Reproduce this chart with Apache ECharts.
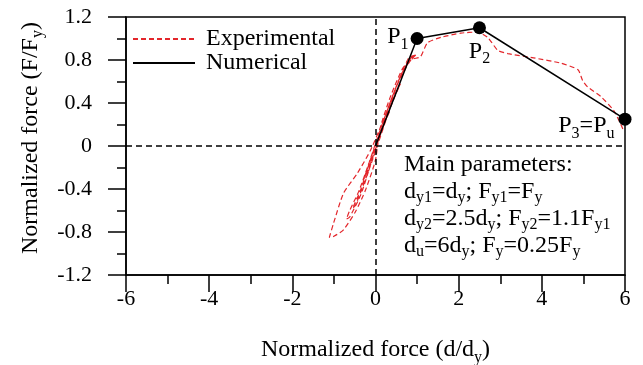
<!DOCTYPE html>
<html><head><meta charset="utf-8">
<script src="https://cdn.jsdelivr.net/npm/echarts@6/dist/echarts.min.js"></script>
<style>html,body{margin:0;padding:0;background:#fff}#c{width:643px;height:365px}</style>
</head><body><div id="c"></div>
<script>
// ---- data ----
const xTicks = [-6, -4, -2, 0, 2, 4, 6];
const yTicks = [-1.2, -0.8, -0.4, 0, 0.4, 0.8, 1.2];
const numX = [0, 1, 2.5, 6];
const numY = [0, 1.0, 1.1, 0.25];
const keyX = [1, 2.5, 6];
const keyY = [1.0, 1.1, 0.25];
const keyLabels = ['P{s|1}', 'P{s|2}', 'P{s|3}=P{s|u}'];
const expX = [0, 0.2, 0.35, 0.25, 0.05, -0.15, -0.3, -0.22, -0.05,
  0.15, 0.4, 0.6, 0.5, 0.2, -0.1, -0.35, -0.55, -0.48, -0.25, 0,
  0.3, 0.55, 0.75, 0.95, 0.85, 0.6, 0.3, 0.05,
  -0.15, -0.4, -0.62, -0.7, -0.62, -0.35, -0.1,
  0.2, 0.5, 0.8, 1.0, 0.9, 0.65, 0.35, 0.1,
  0, -0.24, -0.48, -0.77, -1.0, -1.11, -1.01, -0.77, -0.43, -0.12,
  0.2, 0.5, 0.85, 1.08, 1.25, 1.57, 2.05, 2.45, 2.7, 2.94, 3.18, 3.8, 4.46, 4.87, 4.98, 5.1, 5.42, 5.73, 5.9, 5.97];
const expY = [0, 0.2, 0.33, 0.25, 0.05, -0.17, -0.32, -0.26, -0.08,
  0.14, 0.4, 0.58, 0.5, 0.22, -0.1, -0.4, -0.58, -0.55, -0.32, -0.05,
  0.3, 0.6, 0.75, 0.84, 0.82, 0.65, 0.35, 0.08,
  -0.15, -0.42, -0.6, -0.68, -0.66, -0.45, -0.15,
  0.22, 0.55, 0.82, 0.85, 0.83, 0.72, 0.45, 0.15,
  -0.13, -0.41, -0.61, -0.78, -0.84, -0.85, -0.72, -0.44, -0.25, -0.04,
  0.25, 0.55, 0.8, 0.83, 0.96, 1.01, 1.05, 1.06, 1.01, 0.89, 0.86, 0.82, 0.77, 0.71, 0.61, 0.55, 0.46, 0.33, 0.2, 0.14];
const paramLines = [
  'Main parameters:',
  'd{s|y1}=d{s|y}; F{s|y1}=F{s|y}',
  'd{s|y2}=2.5d{s|y}; F{s|y2}=1.1F{s|y1}',
  'd{s|u}=6d{s|y}; F{s|y}=0.25F{s|y}'
];

// ---- chart ----
const FONT = 'Liberation Serif';
const FS = 24;
const TFS = 22;
const subStyle = { fontFamily: FONT, fontSize: 16, color: '#000', lineHeight: 14, padding: [16, 0, 0, 0] };
const chart = echarts.init(document.getElementById('c'), null, { renderer: 'canvas' });
const zip = (a, b) => a.map((v, i) => [v, b[i]]);
const labelPos = [
  { position: 'left', distance: 2, offset: [0, -2] },
  { position: 'bottom', distance: 2, offset: [0, 0] },
  { position: 'left', distance: 4, offset: [0, 7] }
];

chart.setOption({
  animation: false,
  backgroundColor: '#fff',
  grid: { left: 126, right: 18, top: 17, bottom: 90, show: true, borderColor: '#000', borderWidth: 1.5,
    outerBoundsMode: 'none', containLabel: false },
  legend: {
    orient: 'vertical', left: 132, top: 27, padding: 0, itemWidth: 62, itemHeight: 14, itemGap: 0,
    data: ['Experimental', 'Numerical'],
    itemStyle: { opacity: 0 },
    textStyle: { fontFamily: FONT, fontSize: FS, color: '#000', padding: [0, 0, 0, 6] }
  },
  xAxis: {
    type: 'value', min: xTicks[0], max: xTicks[xTicks.length - 1], interval: xTicks[1] - xTicks[0],
    name: 'Normalized force (d/d{s|y})', nameLocation: 'middle', nameGap: 63,
    nameTextStyle: { fontFamily: FONT, fontSize: FS, color: '#000', rich: { s: subStyle } },
    axisLine: { onZero: false, lineStyle: { color: '#000', width: 1.5 } },
    axisTick: { show: true, inside: false, length: 17, lineStyle: { color: '#000', width: 1.5 } },
    minorTick: { show: true, splitNumber: 2, length: 9, lineStyle: { color: '#000', width: 1.5 } },
    axisLabel: { fontFamily: FONT, fontSize: TFS, color: '#000', margin: 13 },
    splitLine: { show: false }
  },
  yAxis: {
    type: 'value', min: yTicks[0], max: yTicks[yTicks.length - 1], interval: 0.4,
    name: 'Normalized force (F/F{s|y})', nameLocation: 'middle', nameGap: 76, nameRotate: 90,
    nameTextStyle: { fontFamily: FONT, fontSize: FS, color: '#000', rich: { s: subStyle }, padding: [0, 0, 0, 16] },
    axisLine: { onZero: false, lineStyle: { color: '#000', width: 1.5 } },
    axisTick: { show: true, inside: false, length: 18, lineStyle: { color: '#000', width: 1.5 } },
    minorTick: { show: true, splitNumber: 2, length: 9, lineStyle: { color: '#000', width: 1.5 } },
    axisLabel: { fontFamily: FONT, fontSize: TFS, color: '#000', margin: 34,
      formatter: v => String(Math.round(v * 10) / 10) },
    splitLine: { show: false }
  },
  series: [
    {
      name: 'Experimental', type: 'line', data: zip(expX, expY), symbol: 'none', smooth: 0.2,
      lineStyle: { color: '#e3262b', width: 1.2, type: [5, 3] }, itemStyle: { color: '#e3262b' }, z: 2
    },
    {
      name: 'Numerical', type: 'line', data: zip(numX, numY), symbol: 'none',
      lineStyle: { color: '#000', width: 1.5 }, itemStyle: { color: '#000' }, z: 3,
      markLine: {
        silent: true, symbol: 'none', label: { show: false },
        lineStyle: { color: '#000', width: 1.5, type: [6, 4] },
        data: [{ xAxis: 0 }, { yAxis: 0 }]
      }
    },
    {
      name: 'keypoints', type: 'scatter', clip: false, symbolSize: 13, z: 4,
      itemStyle: { color: '#000', opacity: 1 },
      data: keyX.map((x, i) => ({
        value: [x, keyY[i]],
        label: Object.assign({ show: true, formatter: keyLabels[i] }, labelPos[i])
      })),
      label: { fontFamily: FONT, fontSize: FS, color: '#000', lineHeight: 30, rich: { s: subStyle } }
    }
  ],
  graphic: [{
    type: 'text', left: 404, top: 151, z: 10,
    style: {
      text: paramLines.join('\n'),
      fontFamily: FONT, fontSize: FS, fill: '#000', lineHeight: 27,
      rich: { s: Object.assign({}, subStyle, { fill: '#000', padding: [13, 0, 0, 0] }) }
    }
  }]
});
</script></body></html>
